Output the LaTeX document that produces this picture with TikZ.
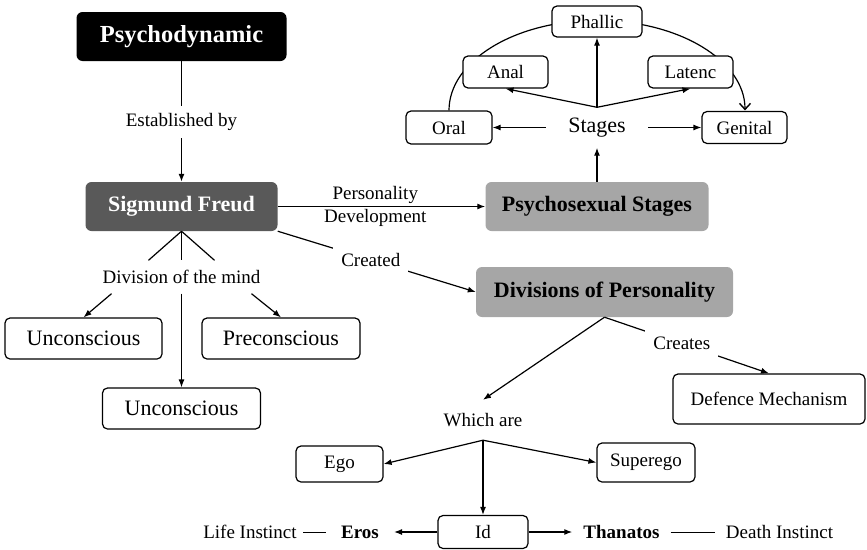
\documentclass[tikz,border=0pt]{standalone}
\usepackage{fontspec}
\setmainfont{Liberation Serif}
\usetikzlibrary{arrows.meta,positioning,calc,backgrounds}
\definecolor{freudgray}{HTML}{595959}
\definecolor{stagegray}{HTML}{A6A6A6}
\tikzset{
  box/.style={draw, rounded corners=5pt, line width=1.2pt, fill=white, inner sep=0pt, font=\fontsize{19}{23}\selectfont},
  bigbox/.style={box, font=\fontsize{22}{25}\selectfont},
  headbox/.style={rounded corners=6pt, inner sep=0pt, text=white, font=\fontsize{22}{25}\selectfont\bfseries},
  lbl/.style={inner sep=0pt, font=\fontsize{19}{23}\selectfont},
  link/.style={line width=1.2pt},
  arr/.style={link, -{Latex[length=8pt,width=6pt]}}
}
\begin{document}
\begin{tikzpicture}[x=1pt,y=-1pt]
\useasboundingbox (0,0) rectangle (867,549);
% Heads
\node[headbox, fill=black, minimum width=210pt, minimum height=49pt, font=\fontsize{24.5}{27}\selectfont\bfseries] (psy) at (181.5,36.5) {Psychodynamic};
\node[headbox, fill=freudgray, minimum width=192pt, minimum height=49pt] (freud) at (181.5,206.5) {Sigmund Freud};
\node[headbox, fill=stagegray, text=black, minimum width=223pt, minimum height=49pt] (psex) at (597,206.5) {Psychosexual Stages};
\node[headbox, fill=stagegray, text=black, minimum width=257pt, minimum height=50pt] (divp) at (604.5,292) {Divisions of Personality};
\draw[arr] (psy) -- node[lbl, fill=white, minimum height=32pt] {Established by} (freud);
\draw[arr] (freud) -- node[lbl, align=center, pos=0.47] {Personality\\Development} (psex);
\draw[arr] (freud.south east) -- node[lbl, fill=white, inner sep=8pt, pos=0.47] {Created} (divp.west);
% Stages
\node[lbl, font=\fontsize{22}{25}\selectfont, minimum width=102pt, minimum height=40pt] (stages) at (597,127.5) {Stages};
\node[box, minimum width=86pt, minimum height=33pt] (oral) at (449,127.5) {Oral};
\node[box, minimum width=85pt, minimum height=32pt] (anal) at (505.5,72) {Anal};
\node[box, minimum width=90pt, minimum height=31pt] (phallic) at (597,21.5) {Phallic};
\node[box, minimum width=85pt, minimum height=32pt] (latenc) at (690.5,72) {Latenc};
\node[box, minimum width=85pt, minimum height=32pt] (genital) at (744.5,127.5) {Genital};
\begin{scope}[on background layer]
\draw[link, -{Straight Barb[length=6pt,width=11pt,line width=1.4pt]}] (oral.north) arc[start angle=180, end angle=0, x radius=148pt, y radius=90pt];
\end{scope}
\draw[arr] (psex.north) -- (stages.south);
\draw[arr] (stages.west) -- (oral.east);
\draw[arr] (stages.east) -- (genital.west);
\foreach \s in {anal,phallic,latenc}
  \draw[arr] (stages.north) -- (\s.south);
% Division of the mind
\node[lbl, fill=white, inner xsep=6pt, minimum height=33pt] (mind) at (181.5,277) {Division of the mind};
\node[bigbox, minimum width=157pt, minimum height=41pt] (unc1) at (83.5,338.5) {Unconscious};
\node[bigbox, minimum width=158pt, minimum height=41pt] (pre) at (281,338.5) {Preconscious};
\node[bigbox, minimum width=158pt, minimum height=41pt] (unc2) at (181.5,408.5) {Unconscious};
\foreach \dx in {-33,0,33}
  \draw[link] (freud.south) -- ($(mind.north)+(\dx,0)$);
\draw[arr] ($(mind.south)+(-70,0)$) -- (unc1.north);
\draw[arr] (mind.south) -- (unc2.north);
\draw[arr] ($(mind.south)+(70,0)$) -- (pre.north);
% Divisions of personality
\node[box, minimum width=192pt, minimum height=50pt] (def) at (769,399) {Defence Mechanism};
\draw[arr] (divp.south) -- node[lbl, fill=white, inner sep=8pt, pos=0.47] {Creates} (def.north);
\node[lbl, minimum height=40pt] (which) at (483,420) {Which are};
\draw[arr] (divp.south) -- (which.north);
\node[box, minimum width=87pt, minimum height=36pt] (ego) at (339.5,464) {Ego};
\node[box, minimum width=98pt, minimum height=39pt] (sup) at (646,462.5) {Superego};
\node[box, minimum width=90pt, minimum height=33pt] (id) at (483,532) {Id};
\foreach \t/\a in {ego/east,sup/west,id/north}
  \draw[arr] (which.south) -- (\t.\a);
% Instincts
\node[lbl, font=\fontsize{19}{23}\selectfont\bfseries, inner xsep=15pt] (eros) at (360,532) {Eros};
\node[lbl, inner xsep=6pt] (life) at (250,532) {Life Instinct};
\node[lbl, font=\fontsize{19}{23}\selectfont\bfseries, inner xsep=11pt] (than) at (621.5,532) {Thanatos};
\node[lbl, inner xsep=11pt] (death) at (779.5,532) {Death Instinct};
\draw[arr] (id) -- (eros);
\draw[arr] (id) -- (than);
\draw[line width=0.7pt] (eros) -- (life);
\draw[line width=0.7pt] (than) -- (death);
\end{tikzpicture}
\end{document}
